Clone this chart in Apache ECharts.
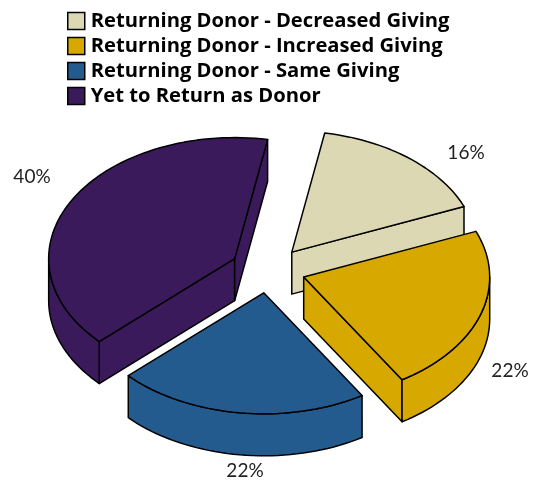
<!DOCTYPE html>
<html><head><meta charset="utf-8">
<script src="https://cdn.jsdelivr.net/npm/echarts@6/dist/echarts.min.js"></script>
<style>html,body{margin:0;padding:0;background:#fff}#c{width:537px;height:482px}</style>
</head><body><div id="c"></div>
<script>
const categories = ['Returning Donor - Decreased Giving','Returning Donor - Increased Giving','Returning Donor - Same Giving','Yet to Return as Donor'];
const values = [16, 22.3, 21.85, 39.85];
const colors = ['#DCD8B3', '#D6A800', '#235B8E', '#3A1A5A'];
const explode = [1, 1, 1, 1.04];
const labelAt = [[466,153],[510,371],[245,471],[32,177]];
const geo = {cx:268.5, cy:270, rx:186, ry:121, depth:42, ex:37, ey:23, start:10.2};
const total = values.reduce((a,b)=>a+b,0);

function pt(deg, ox, oy, dz){
  const t = deg*Math.PI/180;
  return [ox+geo.rx*Math.sin(t), oy-geo.ry*Math.cos(t)+(dz||0)];
}
function arc(a,b,ox,oy,dz){
  const out=[], n=Math.max(2,Math.ceil(Math.abs(b-a)/2));
  for(let i=0;i<=n;i++) out.push(pt(a+(b-a)*i/n,ox,oy,dz));
  return out;
}
function renderSlice(idx){
  return function(params, api){
    const v = api.value(0);
    let before = 0;
    for(let i=0;i<idx;i++) before += values[i];
    const a = geo.start + before/total*360, b = a + v/total*360;
    const mid = (a+b)/2*Math.PI/180;
    const ox = geo.cx + explode[idx]*geo.ex*Math.sin(mid), oy = geo.cy - explode[idx]*geo.ey*Math.cos(mid);
    const style = {fill:colors[idx], stroke:'#000', lineWidth:1.5, lineJoin:'round'};
    const poly = pts => ({type:'polygon', shape:{points:pts}, style});
    const d = geo.depth, kids = [];
    const wall = (deg) => { const p = pt(deg,ox,oy); return poly([[ox,oy],p,[p[0],p[1]+d],[ox,oy+d]]); };
    const norm = x => ((x%360)+360)%360;
    if(norm(a)>180) kids.push(wall(a));
    if(norm(b)<180) kids.push(wall(b));
    for(const [lo,hi] of [[90,270],[450,630]]){
      const s=Math.max(a,lo), e=Math.min(b,hi);
      if(e>s) kids.push(poly(arc(s,e,ox,oy,0).concat(arc(e,s,ox,oy,d))));
    }
    kids.push(poly([[ox,oy]].concat(arc(a,b,ox,oy,0))));
    kids.push({type:'text', style:{text:Math.round(v)+'%', x:labelAt[idx][0], y:labelAt[idx][1], align:'center', verticalAlign:'middle',
      fontFamily:'Lato', fontSize:19, fill:'#222'}});
    return {type:'group', children:kids};
  };
}
const chart = echarts.init(document.getElementById('c'), null, {renderer:'canvas'});
chart.setOption({
  animation:false,
  backgroundColor:'#fff',
  legend:{
    show:true, orient:'vertical', left:62, top:6, itemWidth:17, itemHeight:17, itemGap:5, icon:'rect',
    data:categories, selectedMode:false,
    itemStyle:{borderColor:'#000', borderWidth:1.5},
    textStyle:{fontFamily:'Open Sans', fontWeight:'bold', fontSize:20.2, color:'#000', padding:[0,0,0,1]}
  },
  series: categories.map((name,i)=>({
    type:'custom', name, coordinateSystem:'none',
    itemStyle:{color:colors[i]}, silent:true,
    data:[[values[i]]], renderItem:renderSlice(i)
  }))
});
</script></body></html>
